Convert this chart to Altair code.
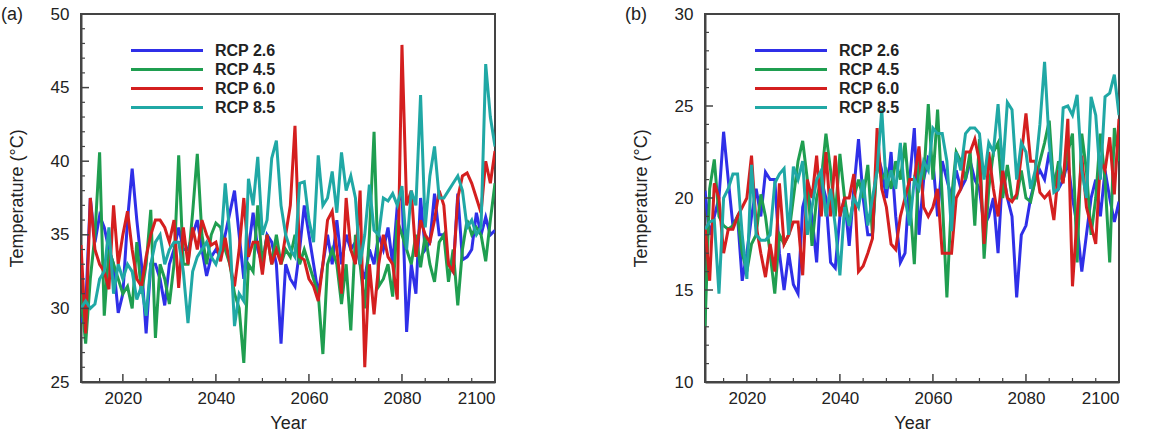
import altair as alt
import pandas as pd

FONT = "Liberation Sans"

years = list(range(2011, 2101))
series_names = ["RCP 2.6", "RCP 4.5", "RCP 6.0", "RCP 8.5"]
series_colors = ["#2f2fe8", "#1f9e50", "#d41f1f", "#20a8a5"]

x_major_ticks = [2020, 2040, 2060, 2080, 2100]
x_minor_ticks = [2015, 2025, 2030, 2035, 2045, 2050, 2055, 2065, 2070, 2075, 2085, 2090, 2095]

# ---- Panel (a) ----
a_rcp26 = [29.0, 30.0, 37.5, 34.5, 36.3, 35.5, 34.0, 33.0, 29.7, 31.0,
           36.0, 39.5, 36.0, 33.0, 28.3, 33.0, 33.0, 32.0, 30.2, 33.0,
           34.0, 35.5, 34.0, 34.0, 35.0, 36.0, 34.0, 32.2, 33.5, 34.0,
           33.5, 35.0, 36.5, 38.0, 35.0, 32.0, 34.0, 36.5, 34.0, 33.0,
           35.0, 34.5, 33.0, 27.6, 33.0, 32.0, 31.5, 34.0, 37.0, 35.0,
           33.0, 31.0, 33.0, 35.0, 33.0, 36.0, 33.0, 35.0, 34.0, 34.5,
           33.0, 32.0, 34.0, 33.0, 35.0, 34.0, 35.5, 33.0, 37.0, 38.0,
           28.4, 33.0, 31.0, 37.5, 34.0, 34.5, 37.8, 35.0, 35.0, 33.0,
           32.5, 37.8, 33.3, 33.5, 34.0, 36.5, 35.0, 36.2, 35.0, 35.3]
a_rcp45 = [31.0, 27.6, 32.0, 35.0, 40.6, 29.5, 34.0, 33.0, 32.0, 31.0,
           31.5, 30.0, 34.5, 31.0, 33.0, 36.7, 28.0, 33.0, 32.0, 30.3,
           33.0, 40.4, 33.0, 33.0, 36.5, 40.5, 35.0, 33.0, 35.0, 35.8,
           35.5, 34.0, 33.0, 31.0, 30.0, 26.3, 33.0, 32.5, 37.0, 33.0,
           35.0, 33.0, 35.0, 33.0, 34.0, 33.5, 35.0, 33.0, 34.0, 33.0,
           32.0, 31.0, 26.9, 33.0, 34.0, 33.0, 30.3, 33.0, 28.5, 35.0,
           33.0, 30.0, 35.0, 42.0, 31.5, 32.0, 33.0, 30.8, 36.0, 35.0,
           34.0, 33.0, 35.0, 32.8, 35.0, 33.0, 31.8, 34.5, 35.0, 31.8,
           34.0, 30.2, 34.0, 36.0, 35.0, 35.5, 35.0, 33.2, 36.0, 38.5]
a_rcp60 = [34.3, 28.3, 37.5, 34.0, 33.0, 32.5, 31.3, 37.0, 33.0, 35.0,
           36.6, 34.0, 32.0, 31.5, 33.5, 35.0, 36.0, 36.0, 35.5, 34.5,
           36.0, 31.4, 35.5, 33.0, 35.5, 34.0, 36.0, 35.0, 34.3, 34.5,
           33.2, 34.8, 33.0, 31.5, 34.0, 37.5, 33.5, 34.5, 34.5, 32.3,
           35.0, 33.0, 34.0, 33.0, 35.0, 37.0, 42.4, 33.5, 33.3, 32.0,
           31.5, 30.5, 33.0, 36.0, 36.6, 34.0, 31.0, 37.5, 34.0, 33.0,
           38.0, 26.0, 33.0, 29.6, 33.0, 35.0, 33.5, 33.0, 30.6, 47.9,
           37.0, 38.0, 33.5, 36.0, 35.0, 34.5, 36.0, 38.0, 37.0, 33.0,
           32.5, 37.5, 39.0, 39.2, 38.5, 37.5, 36.5, 40.0, 38.5, 40.7]
a_rcp85 = [30.0, 30.5, 30.0, 30.3, 32.0, 32.5, 35.5, 31.0, 33.0, 32.0,
           33.0, 32.5, 30.6, 31.5, 29.5, 33.0, 34.5, 35.0, 33.0, 34.0,
           34.5, 34.5, 32.5, 29.0, 32.5, 33.5, 34.0, 34.5, 33.5, 33.0,
           34.0, 38.5, 35.0, 28.8, 31.0, 30.5, 38.8, 37.0, 40.3, 35.0,
           36.0, 40.2, 41.4, 37.0, 35.0, 34.0, 33.5, 38.5, 38.6, 36.0,
           34.5, 40.4, 37.0, 37.5, 39.3, 36.5, 40.6, 38.0, 39.0, 37.5,
           33.0, 35.0, 38.4, 35.3, 35.0, 37.5, 37.3, 37.8, 37.0, 38.3,
           34.0, 38.0, 37.0, 44.5, 35.5, 39.0, 41.0, 37.5, 37.5, 38.0,
           38.5, 39.0, 38.0, 35.5, 36.0, 35.0, 35.5, 46.6, 43.0, 41.0]

# ---- Panel (b) ----
b_rcp26 = [20.4, 18.0, 19.0, 20.0, 23.6, 21.0, 18.5, 19.0, 15.5, 17.0,
           19.0, 20.5, 19.0, 21.4, 21.0, 21.0, 17.0, 15.0, 17.0, 15.3,
           14.8, 19.5, 20.5, 19.0, 16.5, 21.0, 20.0, 16.5, 16.2, 19.0,
           20.0, 17.4, 20.5, 23.2, 20.0, 18.0, 18.0, 22.5, 21.5, 20.0,
           22.5, 19.0, 16.5, 17.0, 21.0, 23.8, 18.0, 21.0, 22.2, 22.0,
           19.0, 22.0, 21.0, 20.0, 21.5, 20.5, 21.0, 22.0, 21.0, 20.5,
           18.5, 19.0, 20.0, 17.0, 21.5, 20.0, 19.0, 14.6, 18.0, 18.5,
           20.0, 21.0, 21.5, 21.0, 22.5, 21.0, 20.5, 21.0, 22.0, 20.0,
           18.5, 16.0, 18.0, 20.0, 21.0, 19.0, 21.5, 20.0, 18.7, 19.8]
b_rcp45 = [13.0, 20.5, 22.1, 19.0, 18.5, 18.3, 18.5, 19.0, 17.0, 16.0,
           17.5, 18.0, 20.2, 19.0, 17.0, 14.8, 18.0, 17.5, 18.0, 20.0,
           22.0, 23.1, 21.0, 17.4, 20.0, 21.0, 23.5, 21.5, 19.0, 22.4,
           20.0, 18.5, 20.0, 21.0, 20.0, 21.8, 18.0, 22.0, 21.0, 21.5,
           20.5, 22.0, 21.0, 23.0, 20.0, 16.4, 22.0, 21.0, 25.1, 21.0,
           24.8, 20.0, 14.6, 20.0, 22.5, 22.0, 21.0, 22.5, 18.5, 23.2,
           16.7, 20.5, 22.5, 23.0, 20.0, 21.8, 20.0, 20.0, 21.5, 20.0,
           19.8, 21.0, 22.0, 23.0, 24.2, 20.5, 22.0, 21.0, 22.5, 23.5,
           16.5, 23.5, 21.5, 18.0, 20.0, 23.5, 21.0, 16.5, 23.8, 22.0]
b_rcp60 = [18.5, 15.5, 20.8, 20.0, 17.0, 18.3, 18.3, 19.0, 19.5, 20.0,
           22.3, 18.5, 17.0, 15.7, 17.5, 16.0, 20.8, 17.5, 18.0, 18.7,
           18.7, 15.8, 21.0, 20.0, 22.3, 19.0, 22.5, 19.0, 22.3, 19.0,
           20.0, 20.0, 21.3, 16.0, 16.3, 17.0, 17.8, 23.8, 20.5, 19.5,
           17.5, 17.2, 19.0, 20.0, 21.0, 21.0, 22.8, 19.5, 19.0, 19.5,
           20.5, 17.0, 17.0, 17.0, 20.0, 20.5, 22.5, 22.5, 23.2, 22.0,
           17.5, 22.5, 20.5, 19.0, 21.5, 20.0, 19.8, 20.2, 22.3, 24.6,
           22.0, 22.0, 20.3, 20.0, 20.3, 18.8, 21.5, 20.8, 24.3, 15.2,
           19.0, 22.3, 19.5, 18.5, 17.5, 22.0, 21.5, 23.3, 20.2, 24.3]
b_rcp85 = [18.3, 18.7, 18.8, 14.8, 20.0, 20.5, 21.3, 21.3, 18.0, 15.6,
           21.8, 18.0, 17.7, 17.7, 18.0, 20.8, 21.3, 21.6, 18.0, 21.7,
           21.0, 22.0, 18.0, 19.5, 21.0, 21.5, 19.0, 20.5, 18.5, 15.8,
           19.5, 18.5, 20.0, 19.5, 21.0, 18.5, 20.0, 21.5, 24.8, 20.5,
           21.5, 20.5, 23.0, 20.0, 18.5, 21.0, 20.5, 22.0, 21.5, 23.8,
           23.5, 23.5, 22.0, 18.2, 22.5, 21.5, 23.5, 23.8, 23.8, 23.5,
           21.0, 23.0, 22.5, 25.1, 21.5, 25.2, 24.8, 21.0, 23.0, 22.5,
           20.5, 21.5, 24.0, 27.4, 23.0, 20.3, 20.5, 24.9, 25.0, 24.5,
           25.6, 21.5, 20.0, 25.5, 24.5, 21.0, 25.5, 25.7, 26.7, 24.5]

a_y_domain = [25, 50]
a_y_major = [25, 30, 35, 40, 45, 50]
a_y_minor = [v for v in range(26, 50) if v % 5 != 0]
b_y_domain = [10, 30]
b_y_major = [10, 15, 20, 25, 30]
b_y_minor = [v for v in range(11, 30) if v % 5 != 0]

W, H = 414, 368
AX = "#444444"


def make_df(lists):
    rows = []
    for name, vals in zip(series_names, lists):
        for yr, v in zip(years, vals):
            rows.append({"year": yr, "temp": v, "series": name})
    return pd.DataFrame(rows)


def panel(lists, ydom, ymajor, yminor, label):
    df = make_df(lists)
    xscale = alt.Scale(domain=[2011, 2100], nice=False, zero=False)
    yscale = alt.Scale(domain=ydom, nice=False, zero=False)
    xaxis = alt.Axis(values=x_major_ticks, format="d", title="Year",
                     labelPadding=8, titlePadding=8)
    yaxis = alt.Axis(values=ymajor, format="d", title="Temperature (°C)",
                     labelPadding=12, titlePadding=24)

    lines = alt.Chart(df).mark_line(strokeWidth=3, clip=True).encode(
        x=alt.X("year:Q", scale=xscale, axis=xaxis),
        y=alt.Y("temp:Q", scale=yscale, axis=yaxis),
        color=alt.Color(
            "series:N",
            scale=alt.Scale(domain=series_names, range=series_colors),
            legend=alt.Legend(
                title=None, orient="none", legendX=48, legendY=27,
                symbolType="M-1,0H8.6", symbolSize=225, symbolStrokeWidth=3.2,
                labelFont=FONT, labelFontSize=16, labelFontWeight="bold",
                labelColor="#222222", labelOffset=67, rowPadding=1, padding=0,
            ),
        ),
        detail="series:N",
    )

    xt_major = alt.Chart(pd.DataFrame({"year": x_major_ticks})).mark_rule(
        color=AX, strokeWidth=1.5).encode(
        x=alt.X("year:Q", scale=xscale, axis=xaxis),
        y=alt.value(H), y2=alt.value(H - 8))
    xt_minor = alt.Chart(pd.DataFrame({"year": x_minor_ticks})).mark_rule(
        color=AX, strokeWidth=1.2).encode(
        x=alt.X("year:Q", scale=xscale, axis=xaxis),
        y=alt.value(H), y2=alt.value(H - 4))
    yt_major = alt.Chart(pd.DataFrame({"temp": ymajor})).mark_rule(
        color=AX, strokeWidth=1.5).encode(
        y=alt.Y("temp:Q", scale=yscale, axis=yaxis),
        x=alt.value(0), x2=alt.value(8))
    yt_minor = alt.Chart(pd.DataFrame({"temp": yminor})).mark_rule(
        color=AX, strokeWidth=1.2).encode(
        y=alt.Y("temp:Q", scale=yscale, axis=yaxis),
        x=alt.value(0), x2=alt.value(4))

    tag = alt.Chart(pd.DataFrame({"t": [label]})).mark_text(
        align="left", baseline="middle", font=FONT, fontSize=18, color="#222222"
    ).encode(text="t:N", x=alt.value(-80), y=alt.value(1))

    return alt.layer(lines, xt_minor, xt_major, yt_minor, yt_major, tag).properties(
        width=W, height=H)


pa = panel([a_rcp26, a_rcp45, a_rcp60, a_rcp85], a_y_domain, a_y_major, a_y_minor, "(a)")
pb = panel([b_rcp26, b_rcp45, b_rcp60, b_rcp85], b_y_domain, b_y_major, b_y_minor, "(b)")

chart = alt.hconcat(pa, pb, spacing=127).resolve_scale(
    x="independent", y="independent", color="independent"
).resolve_legend(color="independent").properties(
    padding={"left": 0, "top": 4, "right": 5, "bottom": 5},
    background="white",
).configure_view(
    stroke=AX, strokeWidth=2
).configure_axis(
    domainColor=AX, domainWidth=2, ticks=False, tickSize=0, grid=False,
    labelFont=FONT, labelFontSize=17, labelColor="#222222",
    titleFont=FONT, titleFontSize=18, titleFontWeight="normal", titleColor="#222222",
)

chart.save("out.html", embed_options={"renderer": "svg", "actions": False})
